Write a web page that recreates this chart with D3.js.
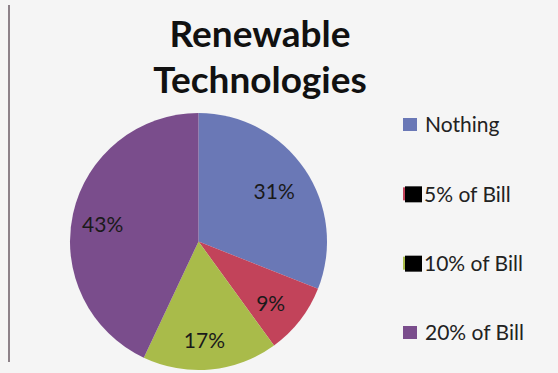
<!DOCTYPE html>
<html>
<head>
<meta charset="utf-8">
<script src="https://cdn.jsdelivr.net/npm/d3@7"></script>
<style>
  html, body { margin: 0; padding: 0; background: #f5f5f5; }
  svg { display: block; font-family: Lato, "Open Sans", sans-serif; }
</style>
</head>
<body>
<svg id="chart" width="558" height="373"></svg>
<script>
// data
const categories = ["Nothing", "5% of Bill", "10% of Bill", "20% of Bill"];
const shares = [31, 9, 17, 43];
const colors = ["#6a78b6", "#c2435a", "#a9bb4a", "#7a4d8c"];
const titleLines = ["Renewable", "Technologies"];
// legend entries whose swatch is blacked out in the original
const blackedOut = [false, true, true, false];

const svg = d3.select("#chart");
const W = +svg.attr("width"), H = +svg.attr("height");

svg.append("rect").attr("width", W).attr("height", H).attr("fill", "#f5f5f5");

// stray vertical rule at the left edge
svg.append("line")
    .attr("x1", 9).attr("x2", 9)
    .attr("y1", 5).attr("y2", 362)
    .attr("stroke", "#8d8289")
    .attr("stroke-width", 2);

// title
svg.append("g")
  .selectAll("text")
  .data(titleLines)
  .join("text")
    .attr("x", 260)
    .attr("y", (d, i) => 47 + i * 46)
    .attr("text-anchor", "middle")
    .attr("font-size", 37)
    .attr("font-weight", "bold")
    .attr("fill", "#111")
    .text(d => d);

// pie
const cx = 198.5, cy = 241.5, R = 128.5;
const pie = d3.pie().sort(null).value(d => d);
const arc = d3.arc().innerRadius(0).outerRadius(R);
const labelArc = d3.arc().innerRadius(R * 0.74).outerRadius(R * 0.74);

const g = svg.append("g").attr("transform", "translate(" + cx + "," + cy + ")");
const arcs = pie(shares);

g.selectAll("path")
  .data(arcs)
  .join("path")
    .attr("d", arc)
    .attr("fill", (d, i) => colors[i]);

g.selectAll("text")
  .data(arcs)
  .join("text")
    .attr("transform", d => {
      const c = labelArc.centroid(d);
      return "translate(" + (c[0] - 3) + "," + (c[1] + 4) + ")";
    })
    .attr("dy", "0.35em")
    .attr("text-anchor", "middle")
    .attr("font-size", 21)
    .attr("fill", "#1a1a1a")
    .text(d => d.data + "%");

// legend
const legendY = d3.scalePoint().domain(categories).range([125, 333]);
const leg = svg.append("g").selectAll("g")
  .data(categories)
  .join("g")
    .attr("transform", d => "translate(403," + legendY(d) + ")");

leg.append("rect")
    .attr("x", 0).attr("y", -7)
    .attr("width", 14).attr("height", 13)
    .attr("fill", (d, i) => colors[i]);

leg.filter((d, i) => blackedOut[i])
  .append("rect")
    .attr("x", 2).attr("y", -8)
    .attr("width", 17).attr("height", 16)
    .attr("fill", "#000");

leg.append("text")
    .attr("x", (d, i) => blackedOut[i] ? 21 : 22)
    .attr("dy", "0.35em")
    .attr("font-size", 21)
    .attr("fill", "#222")
    .text(d => d);
</script>
</body>
</html>
